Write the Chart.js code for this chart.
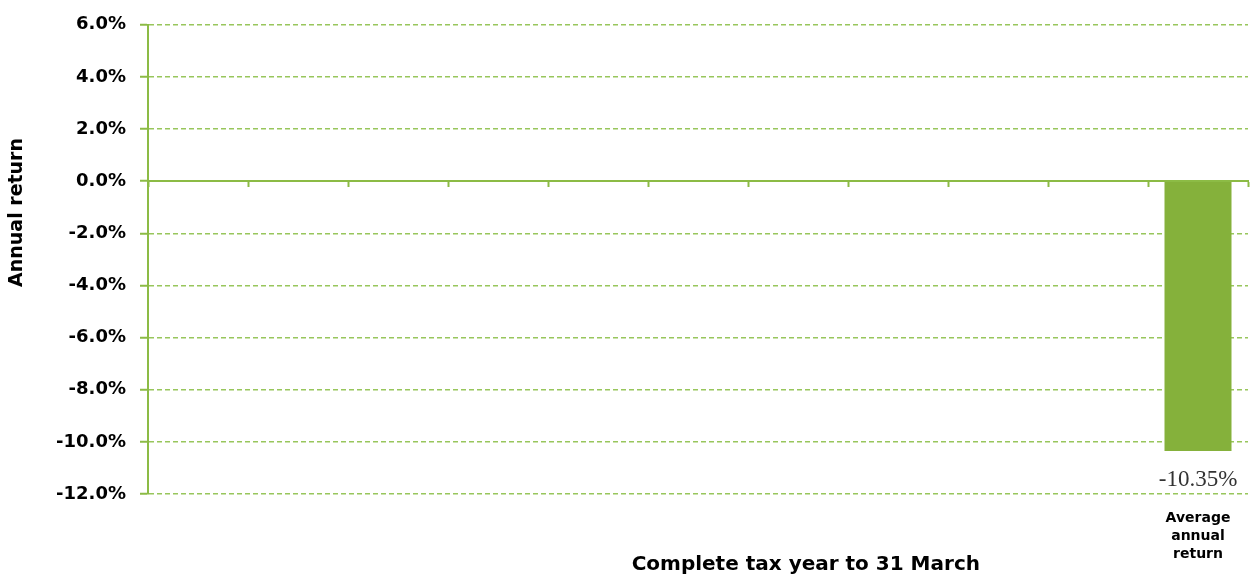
<!DOCTYPE html>
<html>
<head>
<meta charset="utf-8">
<script src="https://cdn.jsdelivr.net/npm/chart.js@4"></script>
<style>
  html, body { margin: 0; padding: 0; background: #ffffff; }
  #wrap { width: 1250px; height: 577px; position: relative; }
</style>
</head>
<body>
<div id="wrap"><canvas id="c"></canvas></div>
<script>
// ---- data ----
const categories = ["", "", "", "", "", "", "", "", "", "", ["Average", "annual", "return"]];
const annualReturn = [null, null, null, null, null, null, null, null, null, null, -10.35];
const yMin = -12;
const yMax = 6;
const yStep = 2;
const xTitle = "Complete tax year to 31 March";
const yTitle = "Annual return";

// ---- styles ----
const barColor = "#85b13b";
const axisColor = "#8cbb45";
const gridColor = "#98c65c";
const fontFamily = '"DejaVu Sans", sans-serif';

const titlesPlugin = {
  id: "titles",
  afterDraw(chart) {
    const { ctx, chartArea } = chart;
    ctx.save();
    ctx.fillStyle = "#000";
    ctx.textAlign = "center";
    ctx.textBaseline = "middle";
    // x title
    ctx.font = "bold 20px " + fontFamily;
    ctx.fillText(xTitle, chartArea.left + chartArea.width * 0.598, chartArea.bottom + 71);
    // y title
    ctx.font = "bold 19px " + fontFamily;
    ctx.translate(17, chartArea.top + chartArea.height * 0.40);
    ctx.rotate(-Math.PI / 2);
    ctx.fillText(yTitle, 0, 0);
    ctx.restore();
  }
};

const valueLabelPlugin = {
  id: "valueLabel",
  afterDatasetsDraw(chart) {
    const { ctx } = chart;
    const meta = chart.getDatasetMeta(0);
    ctx.save();
    ctx.fillStyle = "#333333";
    ctx.font = '23px "Liberation Serif", "Times New Roman", serif';
    ctx.textAlign = "center";
    ctx.textBaseline = "middle";
    meta.data.forEach((el, i) => {
      const v = chart.data.datasets[0].data[i];
      if (v === null || v === undefined) return;
      ctx.fillText(v.toFixed(2) + "%", el.x, el.y + 29);
    });
    ctx.restore();
  }
};

new Chart(document.getElementById("c"), {
  type: "bar",
  data: {
    labels: categories,
    datasets: [{
      data: annualReturn,
      backgroundColor: barColor,
      borderWidth: 0,
      categoryPercentage: 1.0,
      barPercentage: 0.67,
      xAxisID: "x",
      yAxisID: "y"
    }]
  },
  options: {
    responsive: true,
    maintainAspectRatio: false,
    animation: false,
    layout: { padding: { top: 23, right: 2, bottom: 0, left: 0 } },
    plugins: {
      legend: { display: false },
      tooltip: { enabled: false }
    },
    scales: {
      x: {
        type: "category",
        position: "bottom",
        offset: true,
        grid: { display: false, drawTicks: false },
        border: { display: false },
        ticks: {
          color: "#000",
          font: { family: fontFamily, size: 14, weight: "bold", lineHeight: 1.3 },
          padding: 15,
          maxRotation: 0,
          autoSkip: false
        },
        afterFit(s) { s.height = 83; }
      },
      x0: {
        type: "category",
        position: { y: 0 },
        offset: true,
        grid: {
          offset: true,
          drawOnChartArea: false,
          drawTicks: true,
          tickLength: 5,
          tickWidth: 2,
          tickColor: axisColor,
          color: axisColor,
          tickBorderDash: []
        },
        border: { display: true, color: axisColor, width: 2 },
        ticks: { display: false }
      },
      y: {
        min: yMin,
        max: yMax,
        grid: {
          color: gridColor,
          lineWidth: 1.5,
          drawTicks: true,
          tickLength: 8,
          tickWidth: 2,
          tickColor: axisColor,
          tickBorderDash: []
        },
        border: { display: true, color: axisColor, width: 2, dash: [5, 3] },
        ticks: {
          stepSize: yStep,
          color: "#000",
          padding: 14,
          font: { family: fontFamily, size: 18, weight: "bold" },
          callback: (v) => v.toFixed(1) + "%"
        },
        afterFit(s) { s.width = 148; }
      }
    }
  },
  plugins: [titlesPlugin, valueLabelPlugin]
});
</script>
</body>
</html>
